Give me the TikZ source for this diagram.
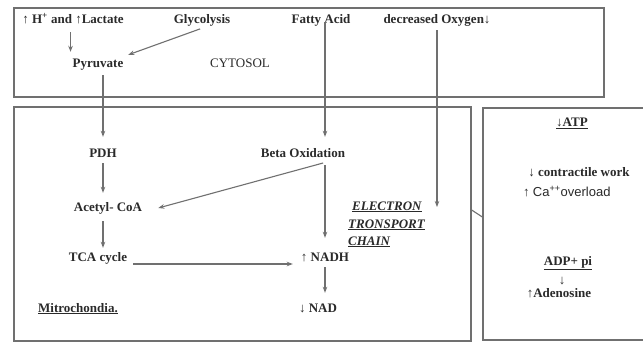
\documentclass[tikz,border=0pt]{standalone}
\usepackage{fontspec}
\setmainfont{Liberation Serif}
\newfontfamily\sansf{Liberation Sans}
\usetikzlibrary{arrows.meta}
\definecolor{linegray}{HTML}{707070}
\definecolor{txtc}{HTML}{2A2A2A}
\begin{document}
\begin{tikzpicture}[x=1pt,y=-1pt,
  boxst/.style={draw=linegray, line width=1.4pt, inner sep=0pt},
  txt/.style={inner sep=2pt, text height=9pt, text depth=3pt, text=txtc,
    font=\fontsize{13}{15}\selectfont\bfseries},
  rtxt/.style={txt, font=\fontsize{13}{15}\selectfont},
  itxt/.style={txt, anchor=west, font=\fontsize{13}{15}\selectfont\bfseries\itshape},
  arr/.style={draw=linegray, line width=1.1pt, -{Stealth[length=6pt,width=4.5pt]}},
  ln/.style={draw=linegray, line width=1.1pt}]
\useasboundingbox (0,0) rectangle (643,343);
\fill[white] (0,0) rectangle (643,343);
\clip (0,0) rectangle (643,343);
% boxes
\node[boxst, minimum width=590pt, minimum height=89pt] (cyto) at (309,52.5) {};
\node[boxst, minimum width=457pt, minimum height=234pt] (mito) at (242.5,224) {};
\node[boxst, minimum width=177pt, minimum height=232pt] (rbox) at (571.5,224) {};
% cytosol texts
\node[txt] (lac) at (73,20) {↑ H\textsuperscript{+} and ↑Lactate};
\node[txt] (gly) at (202,20) {Glycolysis};
\node[txt] (fatty) at (321,20) {Fatty Acid};
\node[txt] (oxy) at (437,20) {decreased Oxygen↓};
\node[txt] (pyr) at (98,64) {Pyruvate};
\node[rtxt] (cyt) at (240,64) {CYTOSOL};
% mitochondria texts
\node[txt] (pdh) at (103,154) {PDH};
\node[txt] (beta) at (303,154) {Beta Oxidation};
\node[txt] (acetyl) at (108,208) {Acetyl- CoA};
\node[txt] (tca) at (98,258) {TCA cycle};
\node[txt] (nadh) at (325,258) {↑ NADH};
\node[txt] (nad) at (318,309) {↓ NAD};
\node[txt] (mitl) at (78,309) {\underline{Mitrochondia.}};
\node[itxt] (etc1) at (350,207) {\underline{ELECTRON}};
\node[itxt] (etc2) at (346,225) {\underline{TRONSPORT}};
\node[itxt] (etc3) at (346,242) {\underline{CHAIN}};
% right box texts
\node[txt] (atp) at (572,123) {\underline{↓ATP}};
\node[txt] (cw) at (579,173) {↓ contractile work};
\node[rtxt, anchor=west] (ca) at (521,193) {↑ {\sansf Ca\textsuperscript{++}overload}};
\node[txt] (adp) at (568,262) {\underline{ADP+ pi}};
\node[txt] (dn) at (562,281) {↓};
\node[txt] (ado) at (559,294) {↑Adenosine};
% connectors
\draw[arr, shorten <=4pt, shorten >=4pt] (lac.south -| pyr.north west) -- (pyr.north west);
\draw[arr, shorten <=2pt, shorten >=3pt] (gly.south) -- (pyr.north east);
\draw[arr, shorten <=3pt, shorten >=9pt] (pyr.south -| pdh.north) -- (pdh.north);
\coordinate (fa) at ([xshift=4pt,yshift=-2pt]fatty.center);
\draw[arr, shorten >=9pt] (fa) -- (fa |- beta.north);
\draw[arr, shorten <=2pt] (oxy.south) -- (oxy.south |- etc1);
\draw[arr, shorten <=1pt, shorten >=7pt] (pdh.south) -- (pdh.south |- acetyl.north);
\draw[arr, shorten <=3pt] ([xshift=23pt]beta.south) -- ([xshift=14pt]acetyl.east);
\draw[arr, shorten <=3pt, shorten >=12pt] (beta.south -| nadh.north) -- (nadh.north);
\draw[arr, shorten <=5pt, shorten >=2pt] (acetyl.south -| pdh.south) -- (pdh.south |- tca.north);
\draw[arr, shorten <=4pt, shorten >=6pt] ([yshift=-6pt]tca.east) -- ([yshift=-6pt]nadh.west);
\draw[arr, shorten <=1pt, shorten >=8pt] (nadh.south) -- (nadh.south |- nad.north);
\draw[ln] ([yshift=14pt]mito.east) -- ([yshift=7pt]rbox.west);
\end{tikzpicture}
\end{document}
